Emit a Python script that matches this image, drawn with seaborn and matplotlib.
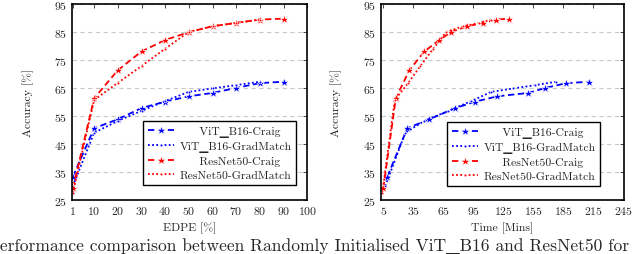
import seaborn as sns
import pandas as pd
import matplotlib.pyplot as plt

# EDPE values (%) and accuracies
edpe = [1, 10, 20, 30, 40, 50, 60, 70, 80, 90]
vit_craig_acc = [33.3, 50.6, 53.8, 57.8, 60.1, 62.0, 63.2, 65.0, 66.7, 67.2]
vit_gm_acc = [30.0, 49.0, 53.2, 56.8, 60.3, 63.6, 64.8, 66.0, 67.2]
res_craig_acc = [29.2, 61.3, 71.3, 78.0, 82.1, 84.9, 87.0, 88.2, 89.4, 89.7]
res_gm_acc = [27.5, 60.7, 66.8, 72.8, 79.0, 85.0, 87.0, 88.2, 89.4]

# training time (mins) for each EDPE point
vit_craig_time = [9, 29, 51, 77, 97, 119, 150, 167, 188, 211]
vit_gm_time = [7, 27, 46, 70, 93, 113, 135, 157, 178]
res_craig_time = [5, 17.5, 31, 46, 61, 72.5, 89, 105, 118, 131]
res_gm_time = [4, 16.5, 30, 42, 55, 68, 85, 101, 113]

# cmr10 has no real underscore, so a low bar from the fallback font stands in
US = '\u2581'
labels = ['     ViT' + US + 'B16-Craig', 'ViT' + US + 'B16-GradMatch',
          '     ResNet50-Craig', 'ResNet50-GradMatch']
edpe_ticks = [1, 10, 20, 30, 40, 50, 60, 70, 80, 90, 100]
time_ticks = [5, 35, 65, 95, 125, 155, 185, 215, 245]
acc_ticks = [25, 35, 45, 55, 65, 75, 85, 95]

sns.set_theme(style="white")
plt.rcParams['font.family'] = ['cmr10', 'DejaVu Serif', 'DejaVu Sans']
plt.rcParams['axes.formatter.use_mathtext'] = True
plt.rcParams['font.size'] = 8.5

fig = plt.figure(figsize=(6.4, 2.55), dpi=100)
ax1 = fig.add_axes([0.112, 0.212, 0.368, 0.769])
ax2 = fig.add_axes([0.595, 0.212, 0.380, 0.769])

dashed = (0, (3.5, 2))
dotted = (0, (1, 1.3))


def draw(ax, xs):
    series = [
        (xs[0], vit_craig_acc, 'blue', '*', 6.5, dashed),
        (xs[1], vit_gm_acc, 'blue', 'o', 2, dotted),
        (xs[2], res_craig_acc, 'red', '*', 6.5, dashed),
        (xs[3], res_gm_acc, 'red', 'o', 2, dotted),
    ]
    for (x, y, c, m, ms, ls), lab in zip(series, labels):
        df = pd.DataFrame({'x': x, 'y': y})
        sns.lineplot(data=df, x='x', y='y', ax=ax, color=c, marker=m,
                     markersize=ms, markeredgewidth=0.5, linestyle=ls,
                     linewidth=1.3, label=lab)
    ax.set_ylim(25, 95)
    ax.set_yticks(acc_ticks)
    ax.set_ylabel('Accuracy [%]', fontsize=8.5)
    ax.grid(axis='y', color='#c8c8c8', linestyle=(0, (4, 3)), linewidth=0.8)
    ax.tick_params(direction='in', length=3, width=0.6, top=True, right=True,
                   labelsize=8.5, pad=3)
    for s in ax.spines.values():
        s.set_color('black')
        s.set_linewidth(1.2)


draw(ax1, [edpe, edpe[:9], edpe, edpe[:9]])
ax1.set_xlim(0.5, 100)
ax1.set_xticks(edpe_ticks)
ax1.set_xlabel('EDPE [%]', fontsize=8.5)
ax1.yaxis.set_label_coords(-0.16, 0.5)

draw(ax2, [vit_craig_time, vit_gm_time, res_craig_time, res_gm_time])
ax2.set_xlim(2.5, 245.5)
ax2.set_xticks(time_ticks)
ax2.set_xlabel('Time [Mins]', fontsize=8.5)
ax2.yaxis.set_label_coords(-0.16, 0.5)

for ax, anchor in [(ax1, (0.979, 0.046)), (ax2, (0.926, 0.041))]:
    leg = ax.legend(loc='lower right', bbox_to_anchor=anchor, fontsize=8.4,
                    frameon=True, fancybox=False, edgecolor='black',
                    framealpha=1, handlelength=2.2, labelspacing=0.35,
                    borderpad=0.4, handletextpad=0.5)
    leg.get_frame().set_linewidth(1.0)

fig.text(-0.018, 0.015,
         'Performance comparison between Randomly Initialised ViT' + US + 'B16 and ResNet50 for',
         fontsize=12.6, ha='left', va='baseline')

fig.savefig('out.png', dpi=100)
